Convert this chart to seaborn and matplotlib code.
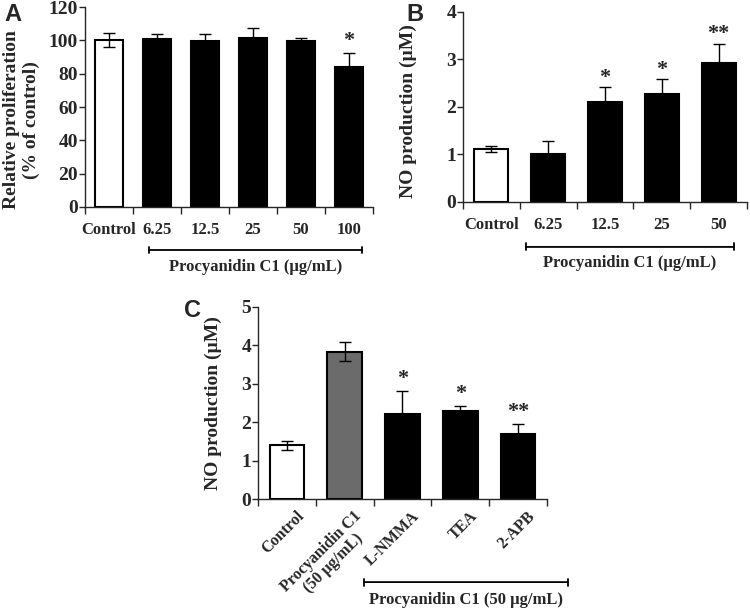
import numpy as np
import pandas as pd
import matplotlib
matplotlib.use("Agg")
import matplotlib.pyplot as plt
import matplotlib.transforms as mtransforms
import seaborn as sns

# Panel A: cell proliferation
a_cats = ["Control", "6.25", "12.5", "25", "50", "100"]
a_vals = [100.4, 101.0, 99.4, 101.6, 99.4, 83.9]
a_errs = [4.2, 2.8, 4.4, 6.0, 2.2, 8.5]
a_stars = ["", "", "", "", "", "*"]

# Panel B: NO production vs dose
b_cats = ["Control", "6.25", "12.5", "25", "50"]
b_vals = [1.11, 1.00, 2.09, 2.26, 2.91]
b_errs = [0.07, 0.28, 0.32, 0.32, 0.41]
b_stars = ["", "", "*", "*", "**"]

# Panel C: NO production with inhibitors
c_cats = ["Control", "Procyanidin C1\n(50 \u00b5g/mL)", "L-NMMA", "TEA", "2-APB"]
c_vals = [1.40, 3.83, 2.22, 2.30, 1.70]
c_errs = [0.12, 0.25, 0.60, 0.13, 0.26]
c_stars = ["", "", "*", "*", "**"]

sns.set_style("ticks")
plt.rcParams["font.family"] = ["Liberation Serif", "DejaVu Serif"]
plt.rcParams["font.weight"] = "bold"
plt.rcParams["axes.linewidth"] = 1.0

fig = plt.figure(figsize=(7.5, 6.09), dpi=100)


def bar_panel(rect, cats, vals, errs, stars, colors, ymax, yticks, star_off):
    ax = fig.add_axes(rect)
    df = pd.DataFrame({"cat": cats, "val": vals})
    sns.barplot(data=df, x="cat", y="val", hue="cat", palette=dict(zip(cats, colors)),
                legend=False, width=0.6, edgecolor="black", linewidth=1.5, ax=ax)
    n = len(cats)
    x = np.arange(n)
    ax.errorbar(x, vals, yerr=errs, fmt="none", ecolor="black", elinewidth=1,
                capsize=4, capthick=1, zorder=5)
    for i, s in enumerate(stars):
        if s:
            ax.text(i, vals[i] + errs[i] + star_off, s, ha="center", va="center",
                    fontsize=16, fontweight="bold")
    ax.set_xlim(-0.5, n - 0.5)
    ax.set_ylim(0, ymax)
    ax.set_yticks(yticks)
    ax.tick_params(axis="y", labelsize=14, length=4, width=1, pad=1)
    # ticks sit between the bars, as in the original figure
    ax.set_xticks(np.arange(n + 1) - 0.5)
    ax.set_xticklabels([""] * (n + 1))
    ax.tick_params(axis="x", which="major", length=5, width=1)
    ax.set_xlabel("")
    sns.despine(ax=ax)
    for lab in ax.get_yticklabels():
        lab.set_fontweight("bold")
    return ax


def bracket(ax, x0, x1, y, label, ly):
    tr = mtransforms.blended_transform_factory(ax.transData, ax.transAxes)
    ax.annotate("", xy=(x0, y), xytext=(x1, y), xycoords=tr, textcoords=tr,
                arrowprops=dict(arrowstyle="|-|, widthA=0.25, widthB=0.25", lw=1.3,
                                color="black", shrinkA=0, shrinkB=0))
    ax.text((x0 + x1) / 2, ly, label, transform=tr, ha="center", va="center",
            fontsize=12, fontweight="bold")


# A
axA = bar_panel([0.1133, 0.6601, 0.384, 0.3284], a_cats, a_vals, a_errs, a_stars,
                ["white"] + ["black"] * 5, 120, np.arange(0, 121, 20), 7)
axA.set_xticks(np.arange(len(a_cats)), minor=True)
axA.set_xticklabels(a_cats, minor=True, fontsize=12, fontweight="bold")
axA.tick_params(axis="x", which="minor", length=0, pad=11)
axA.set_ylabel("Relative proliferation\n(% of control)", fontsize=14, fontweight="bold")
axA.yaxis.set_label_coords(-0.156, 0.435)
bracket(axA, 0.83, 5.27, -0.215, "Procyanidin C1 (\u00b5g/mL)", -0.30)

# B
axB = bar_panel([0.6173, 0.6688, 0.3787, 0.312], b_cats, b_vals, b_errs, b_stars,
                ["white"] + ["black"] * 4, 4, np.arange(0, 5, 1), 0.2)
axB.set_xticks(np.arange(len(b_cats)), minor=True)
axB.set_xticklabels(b_cats, minor=True, fontsize=12, fontweight="bold")
axB.tick_params(axis="x", which="minor", length=0, pad=11)
axB.set_ylabel("NO production (\u00b5M)", fontsize=14, fontweight="bold")
axB.yaxis.set_label_coords(-0.162, 0.477)
bracket(axB, 0.605, 4.27, -0.238, "Procyanidin C1 (\u00b5g/mL)", -0.323)

# C
axC = bar_panel([0.344, 0.1806, 0.3853, 0.3158], c_cats, c_vals, c_errs, c_stars,
                ["white", "#6b6b6b", "black", "black", "black"], 5, np.arange(0, 6, 1), 0.3)
lab_tr = mtransforms.offset_copy(
    mtransforms.blended_transform_factory(axC.transData, axC.transAxes),
    fig=fig, x=9, y=-9, units="dots")
for i, lab in enumerate(c_cats):
    axC.text(i, 0, lab, transform=lab_tr, rotation=45, rotation_mode="anchor",
             ha="right", va="top", multialignment="center", linespacing=1.05,
             fontsize=11.5, fontweight="bold")
axC.set_ylabel("NO production (\u00b5M)", fontsize=14, fontweight="bold")
axC.yaxis.set_label_coords(-0.125, 0.5)
bracket(axC, 1.34, 4.86, -0.432, "Procyanidin C1 (50 \u00b5g/mL)", -0.525)

# panel letters
for letter, (px, py) in zip("ABC", [(4, 3), (406, 3), (184, 299)]):
    fig.text(px / 750, 1 - py / 609, letter, ha="left", va="top", fontsize=17,
             fontweight="bold", family=["Liberation Sans", "DejaVu Sans"])

fig.savefig("out.png", dpi=100)
plt.close(fig)
